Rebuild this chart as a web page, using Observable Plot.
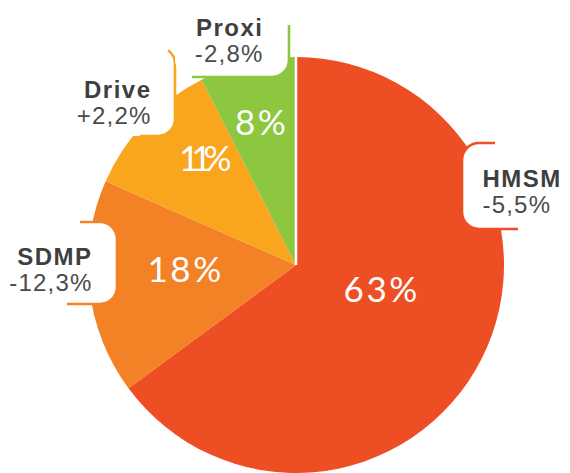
<!DOCTYPE html>
<html>
<head>
<meta charset="utf-8">
<script src="https://cdn.jsdelivr.net/npm/d3@7"></script>
<script src="https://cdn.jsdelivr.net/npm/@observablehq/plot@0.6"></script>
<style>
  html, body { margin: 0; padding: 0; background: #ffffff; }
  #chart svg { display: block; }
  #chart g[font-weight="bold"] text { letter-spacing: 1.5px; }
  #chart g[font-weight="normal"] text { letter-spacing: 1.2px; }
  #chart g[font-weight="400"] text { letter-spacing: 2.5px; }
</style>
</head>
<body>
<div id="chart"></div>
<script>
// ---- data ----
const segments    = ["HMSM", "SDMP", "Drive", "Proxi"];
const shares      = [64.9, 16.7, 10.9, 7.5];          // slice sizes as drawn
const shareLabels = ["63%", "18%", "11%", "8%"];       // printed shares
const changes     = ["-5,5%", "-12,3%", "+2,2%", "-2,8%"];
const colors      = ["#EE4E23", "#F38226", "#F9A61E", "#8DC63F"];

// ---- layout (annotation geometry, pixel-like units) ----
const W = 570, H = 473;
const pie = {cx: 296, cy: 265, r: 208};
const pctPlacement = [
  {r: 89,  da: -10},
  {r: 111, da: 3.5},
  {r: 142, da: 4.5},
  {r: 146, da: -0.3}
];
const boxes = [
  {side: "left",  x1: 462, x2: 640, y1: 143, y2: 229, r: 17, from: {x: 495}, to: {x: 518}, tx: 482, ty: 186, anchor: "start"},
  {side: "right", x1: -40, x2: 117, y1: 222, y2: 304, r: 17, from: {x: 80},  to: {x: 67},  tx: 92,  ty: 264, anchor: "end"},
  {side: "right", x1: 40,  x2: 175, y1: 47,  y2: 136, r: 17, from: {arc: 0.4}, to: {x: 140}, tx: 151, ty: 97, anchor: "end"},
  {side: "right", x1: 175, x2: 289, y1: -40, y2: 77,  r: 17, from: {y: 25},  to: {x: 192}, tx: 263, ty: 35,  anchor: "end"}
];
const lineGap = 26;

// ---- derived ----
const arcs = d3.pie().sort(null).value(d => d)(shares);
const pctData = arcs.map((a, i) => {
  const ang = (a.startAngle + a.endAngle) / 2 + pctPlacement[i].da * Math.PI / 180;
  return {
    seg: segments[i],
    label: shareLabels[i],
    x: pie.cx + pctPlacement[i].r * Math.sin(ang),
    y: pie.cy - pctPlacement[i].r * Math.cos(ang)
  };
});
const nameData = segments.map((s, i) => ({text: s, x: boxes[i].tx, y: boxes[i].ty, anchor: boxes[i].anchor}));
const changeData = segments.map((s, i) => ({text: changes[i], x: boxes[i].tx, y: boxes[i].ty + lineGap, anchor: boxes[i].anchor}));

function pieLayer(index, scales) {
  const X = scales.x, Y = scales.y;
  const cx = X(pie.cx), cy = Y(pie.cy), r = X(pie.cx + pie.r) - cx;
  const g = d3.create("svg:g");
  const arc = d3.arc().innerRadius(0).outerRadius(r);
  g.selectAll("path")
    .data(arcs)
    .join("path")
    .attr("transform", `translate(${cx},${cy})`)
    .attr("d", arc)
    .attr("fill", (d, i) => colors[i]);
  const a0 = arcs[0].startAngle;
  g.append("line")
    .attr("x1", cx).attr("y1", cy)
    .attr("x2", cx + (r + 1) * Math.sin(a0)).attr("y2", cy - (r + 1) * Math.cos(a0))
    .attr("stroke", "#ffffff").attr("stroke-width", 2.5);
  return g.node();
}

function boxLayer(index, scales) {
  const X = scales.x, Y = scales.y;
  const k = X(1) - X(0);
  const g = d3.create("svg:g");
  boxes.forEach((b, i) => {
    const x1 = X(b.x1), x2 = X(b.x2), y1 = Y(b.y1), y2 = Y(b.y2), r = b.r * k;
    g.append("rect")
      .attr("x", x1).attr("y", y1)
      .attr("width", x2 - x1).attr("height", y2 - y1)
      .attr("rx", r).attr("ry", r)
      .attr("fill", "#ffffff");
    let p = "";
    if (b.side === "right") {
      if (b.from.x != null) {
        p += `M${X(b.from.x)},${y1}L${x2 - r},${y1}A${r},${r} 0 0 1 ${x2},${y1 + r}`;
      } else if (b.from.arc != null) {
        const t = b.from.arc * Math.PI / 2;
        const sx = x2 - r + r * Math.sin(t), sy = y1 + r - r * Math.cos(t);
        p += `M${sx},${sy}A${r},${r} 0 0 1 ${x2},${y1 + r}`;
      } else {
        p += `M${x2},${Y(b.from.y)}`;
      }
      p += `L${x2},${y2 - r}A${r},${r} 0 0 1 ${x2 - r},${y2}L${X(b.to.x)},${y2}`;
    } else {
      p += `M${X(b.from.x)},${y1}L${x1 + r},${y1}A${r},${r} 0 0 0 ${x1},${y1 + r}`;
      p += `L${x1},${y2 - r}A${r},${r} 0 0 0 ${x1 + r},${y2}L${X(b.to.x)},${y2}`;
    }
    g.append("path")
      .attr("d", p)
      .attr("fill", "none")
      .attr("stroke", colors[i])
      .attr("stroke-width", 2.6);
  });
  return g.node();
}

const labelFont = "'Liberation Sans', Arial, sans-serif";
function labelMarks(data, weight, fill, anchor) {
  return Plot.text(data, {
    filter: d => d.anchor === anchor,
    x: "x", y: "y", text: "text",
    textAnchor: anchor,
    lineAnchor: "bottom",
    fill,
    fontSize: 24,
    fontWeight: weight,
    fontFamily: labelFont
  });
}

const chart = Plot.plot({
  width: W,
  height: H,
  margin: 0,
  style: {background: "#ffffff", overflow: "hidden"},
  x: {domain: [0, W], range: [0, W], axis: null},
  y: {domain: [0, H], range: [0, H], axis: null},
  marks: [
    pieLayer,
    Plot.text(pctData, {
      x: "x", y: "y", text: "label",
      fill: "#ffffff",
      fontSize: 35,
      fontWeight: 400,
      fontFamily: "Lato, 'Open Sans', Roboto, sans-serif",
      textAnchor: "middle",
      lineAnchor: "middle"
    }),
    boxLayer,
    labelMarks(nameData, "bold", "#3f3f3f", "start"),
    labelMarks(nameData, "bold", "#3f3f3f", "end"),
    labelMarks(changeData, "normal", "#4a4a4a", "start"),
    labelMarks(changeData, "normal", "#4a4a4a", "end")
  ]
});

document.getElementById("chart").appendChild(chart);

// the printed "11%" is set very tight in the original
d3.select(chart).selectAll("text").filter(function () { return this.textContent === "11%"; })
  .style("letter-spacing", "-8px");
</script>
</body>
</html>
